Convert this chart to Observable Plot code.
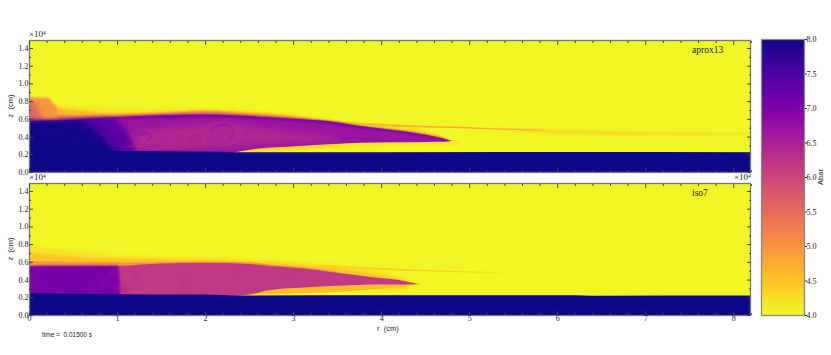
<!DOCTYPE html>
<html><head><meta charset="utf-8">
<script src="https://cdn.jsdelivr.net/npm/d3@7"></script>
<script src="https://cdn.jsdelivr.net/npm/@observablehq/plot@0.6"></script>
<style>
html,body{margin:0;background:#fff}
#c{position:relative;width:831px;height:355px;overflow:hidden}
#c svg{position:absolute;background:transparent;overflow:visible}
.t{position:absolute;white-space:pre;line-height:1;color:#222}
.s{font-family:"Liberation Sans",sans-serif}
.f{font-family:"Liberation Serif",serif}
sup{font-size:60%;vertical-align:baseline;position:relative;top:-.45em}
</style></head><body><div id="c"></div>
<script>
// ticks
const xMajor=[0,1,2,3,4,5,6,7,8];
const xMinor=[.2,.4,.6,.8,1.2,1.4,1.6,1.8,2.2,2.4,2.6,2.8,3.2,3.4,3.6,3.8,4.2,4.4,4.6,4.8,5.2,5.4,5.6,5.8,6.2,6.4,6.6,6.8,7.2,7.4,7.6,7.8,8.2];
const zMajor=[0,.2,.4,.6,.8,1,1.2,1.4];
const zMinor=[.1,.3,.5,.7,.9,1.1,1.3];
const zLabels=["0.0","0.2","0.4","0.6","0.8","1.0","1.2","1.4"];
const barTicks=[4,4.5,5,5.5,6,6.5,7,7.5,8];

// aprox13: r, upper z, lower z, Abar of each region
const aGlowR=[-.1,.3,.35,.6,1,1.5,2,2.5,3,3.3,3.6];
const aGlow1=[.78,.78,.76,.74,.71,.71,.715,.69,.65,.6,.55];
const aGlow2=[.73,.73,.72,.69,.655,.665,.69,.67,.635,.59,.54];
const aGlow3=[.64,.64,.64,.63,.645,.665,.685,.655,.615,.575,.52];
const aCapR=[-.1,.2,.25,.28,.32];
const aCapTop=[.84,.84,.81,.77,.72];
const aCapInR=[-.1,.04,.1,.16];
const aCapInTop=[.82,.8,.72,.6];
const aTailR=[3.1,3.5,4,4.4,4.9,5.3,5.65,5.9];
const aTailTop=[.6,.57,.545,.525,.51,.495,.485,.475];
const aTailBot=[.56,.54,.515,.505,.495,.48,.47,.47];
const aFadeR=[5.3,5.8,6.2,6.8,7.4,7.9,8.3];
const aFadeTop=[.5,.48,.47,.455,.445,.44,.435];
const aFadeBot=[.49,.44,.43,.415,.415,.42,.42];
const aWedgeR=[3.2,3.6,4,4.4,4.7];
const aWedgeTop=[.6,.56,.52,.49,.4];
const aDiskR=[-.1,.5,1,1.5,2,2.3,2.625,3,3.38,3.76,4.14,4.52,4.7,4.8];
const aDiskTop=[.57,.59,.62,.64,.65,.64,.625,.6,.576,.52,.475,.418,.38,.35];
const aDiskBot=[.2,.2,.2,.2,.2,.22,.268,.29,.313,.33,.335,.34,.342,.35];
const aEdgeBot=[.55,.57,.595,.61,.625,.615,.6,.575,.55,.495,.455,.4,.37,.35];
const aUnderR=[2.2,2.6,3,3.4,3.8,4.2,4.6,4.9];
const aUnderTop=[.24,.3,.33,.35,.365,.37,.365,.35];
const aUnderBot=[.225,.26,.29,.32,.335,.345,.35,.35];
const aUnderFillTop=[.23,.27,.3,.33,.34,.35,.35,.35];
const aPatchR=[1.2,1.5,1.9,2.3,2.7,3.1,3.5];
const aPatchTop=[.42,.5,.53,.55,.49,.44,.4];
const aPatchBot=[.27,.27,.27,.28,.31,.33,.35];
const aDark1R=[-.1,.4,.8,.95,1.08,1.2];
const aDark1Top=[.57,.59,.61,.6,.48,.25];
const aDark2R=[-.1,.4,.62,.75,.88,.98];
const aDark2Top=[.565,.57,.57,.47,.34,.22];
const aBaseR=[-.1,.6,.95,1.5,2,2.3,2.4,6,8.3];
const aBaseTop=[.25,.25,.24,.235,.23,.225,.222,.225,.222];
const aSwirls=[
 {a:6.2,r:[1.15,1.22,1.32,1.42,1.46,1.38,1.28,1.3],z:[.4,.48,.49,.44,.37,.33,.37,.42]},
 {a:6.95,r:[1.25,1.33,1.38,1.34],z:[.42,.45,.4,.36]},
 {a:6.2,r:[1.5,1.6,1.72,1.78,1.7,1.62],z:[.3,.42,.46,.38,.32,.36]},
 {a:6.2,r:[1.75,1.85,1.96,1.98,1.88,1.86],z:[.38,.46,.43,.34,.31,.37]},
 {a:6.2,r:[1.98,2.03,2.15,2.3,2.4,2.35,2.2],z:[.42,.53,.57,.55,.46,.36,.3]},
 {a:6.9,r:[2.06,2.15,2.27,2.32,2.25],z:[.46,.53,.52,.43,.36]},
 {a:6.35,r:[2.5,2.65,2.85,3.05,3.2],z:[.33,.4,.42,.4,.36]},
 {a:6.2,r:[1.08,1.2,1.35,1.55,1.68,1.9],z:[.28,.3,.27,.28,.27,.28]}
];
const aMottleR=[.15,.3,.45,.55,.7,.78,.85,.95,1.02,1.08,1.12,.9,.72,.62,.5,.98,1.05];
const aMottleZ=[.5,.45,.52,.42,.55,.47,.55,.48,.4,.5,.33,.33,.38,.5,.33,.56,.27];
const aMottleA=[7.85,7.95,7.8,7.95,7.45,7.6,7.3,7.15,7.2,7.0,6.95,7.45,7.85,7.75,7.95,7.15,7.3];

// iso7
const iGlowR=[-.1,.1,.5,1,1.5,2,2.5,2.74,3.12,3.5,3.88,4.3];
const iGlow0=[.82,.78,.72,.68,.66,.65,.63,.62,.6,.57,.53,.4];
const iGlow1=[.72,.7,.66,.64,.63,.62,.6,.59,.565,.53,.47,.38];
const iLineR=[-.1,.5,1,1.05,1.5,2,2.5,2.74,3.12,3.5];
const iLineTop=[.61,.6,.595,.59,.595,.605,.595,.57,.54,.49];
const iTailR=[3.3,3.9,4.6,5,5.3];
const iTailTop=[.565,.535,.505,.49,.485];
const iTailBot=[.545,.515,.49,.48,.48];
const iFadeR=[5,5.5,6,6.6];
const iFadeTop=[.495,.48,.47,.46];
const iFadeBot=[.475,.465,.46,.455];
const iDiskR=[-.1,.5,1,1.5,2,2.5,2.74,3.12,3.5,3.88,4.26,4.41];
const iDiskTop=[.55,.555,.555,.58,.59,.575,.553,.526,.477,.43,.385,.35];
const iDiskBot=[.2,.2,.2,.2,.2,.23,.283,.31,.33,.345,.345,.35];
const iUnderR=[2.2,2.6,3,3.5,4,4.3,4.46];
const iUnderTop=[.24,.3,.335,.36,.37,.37,.35];
const iUnderBot=[.22,.23,.24,.26,.3,.33,.35];
const iPurpleR=[-.1,.5,.93,1.0,1.02,1.03,1.04];
const iPurpleTop=[.55,.555,.555,.555,.47,.36,.2];
const iBaseR=[-.1,.5,1,2,2.2,2.3,4,6.2,6.4,8.3];
const iBaseTop=[.248,.24,.235,.23,.225,.22,.222,.224,.218,.22];
const iMottleR=[1.2,1.5,1.75,2.05,2.35,2.6,2.9,3.3,.3,.6,.85,1.08,1.0,.95,.1,.5];
const iMottleZ=[.42,.48,.38,.43,.5,.36,.45,.4,.42,.47,.38,.3,.32,.48,.5,.33];
const iMottleA=[6.35,6.05,6.3,6.05,6.3,6.05,6.25,6.05,7.0,7.2,6.85,6.4,6.7,6.75,6.85,7.2];

const rows=(r,top,bot,a)=>r.map((v,i)=>({r:v,t:top[i],b:Array.isArray(bot)?bot[i]:bot,a}));
const color={type:"linear",scheme:"plasma",reverse:true,domain:[4,8]};
const band=(r,top,bot,a,blur=.7)=>Plot.areaY(rows(r,top,bot,a),{x:"r",y1:"b",y2:"t",fill:"a",clip:true,curve:"monotone-x",imageFilter:`blur(${blur}px)`});
const axes=(showX)=>[
  Plot.frame({stroke:"#777",strokeWidth:1.3}),
  Plot.axisX(xMajor,{anchor:"bottom",tickSize:-4,tickPadding:4,fontSize:8,fontFamily:"Liberation Serif",stroke:"#444",fill:"#222",label:null,tickFormat:showX?(d=>d):()=>""}),
  Plot.axisX(xMinor,{anchor:"bottom",tickSize:-2,stroke:"#444",label:null,tickFormat:()=>""}),
  Plot.axisX(xMajor,{anchor:"top",tickSize:-4,stroke:"#444",label:null,tickFormat:()=>""}),
  Plot.axisX(xMinor,{anchor:"top",tickSize:-2,stroke:"#444",label:null,tickFormat:()=>""}),
  Plot.axisY(zMajor,{anchor:"left",tickSize:-4,tickPadding:5,fontSize:8,fontFamily:"Liberation Serif",stroke:"#444",fill:"#222",label:null,tickFormat:d=>zLabels[zMajor.indexOf(d)]}),
  Plot.axisY(zMinor,{anchor:"left",tickSize:-2,stroke:"#444",label:null,tickFormat:()=>""}),
  Plot.axisY(zMajor,{anchor:"right",tickSize:-4,stroke:"#444",label:null,tickFormat:()=>""}),
  Plot.axisY(zMinor,{anchor:"right",tickSize:-2,stroke:"#444",label:null,tickFormat:()=>""})
];
const panel=(top,mt,mb,showX,marks)=>{
  const p=Plot.plot({width:770,height:mt+132+mb,marginLeft:29,marginRight:20,marginTop:mt,marginBottom:mb,
    x:{domain:[0,8.19],axis:null},y:{domain:[0,1.49],axis:null},color,style:{background:"transparent"},
    marks:[Plot.rect([0],{x1:-1,x2:9,y1:0,y2:2,fill:()=>4.02,clip:true}),...marks,...axes(showX)]});
  p.style.left="0px";p.style.top=top+"px";return p;
};
const c=document.getElementById("c");
const swirlMarks=aSwirls.map(s=>Plot.line(s.r.map((v,i)=>({r:v,z:s.z[i],a:s.a})),{x:"r",y:"z",stroke:"a",strokeWidth:1.2,strokeOpacity:.4,curve:"catmull-rom",clip:true,imageFilter:"blur(.7px)"}));
const mottle=(r,z,a,size)=>Plot.dot(r.map((v,i)=>({r:v,z:z[i],a:a[i]})),{x:"r",y:"z",fill:"a",r:size,fillOpacity:.55,clip:true,imageFilter:"blur(2.5px)"});

c.append(panel(28,12,8,false,[
  band(aGlowR,aGlow1,.3,4.2,1.6),
  band(aGlowR,aGlow2,.3,4.65,1.3),
  band(aGlowR,aGlow3,.3,5.4,1),
  band(aCapR,aCapTop,.5,5.0,.8),
  band(aCapInR,aCapInTop,.5,5.6,2.5),
  band(aFadeR,aFadeTop,aFadeBot,4.3,.9),
  band(aTailR,aTailTop,aTailBot,4.75,.6),
  band(aWedgeR,aWedgeTop,.38,4.3,.8),
  band(aUnderR,aUnderFillTop,aUnderBot.map(v=>v-.05),4.15,.5),
  band(aUnderR,aUnderTop,aUnderBot,4.8,.5),
  band(aDiskR,aDiskTop,aDiskBot,6.7,.6),
  band(aDiskR,aDiskTop,aEdgeBot,7.05,.8),
  band(aPatchR,aPatchTop,aPatchBot,6.45,3),
  band(aDark1R,aDark1Top,.2,7.45,2),
  band(aDark2R,aDark2Top,.2,7.97,2),
  ...swirlMarks,
  mottle(aMottleR,aMottleZ,aMottleA,4),
  band(aBaseR,aBaseTop,-.1,8,.6)
]));
c.append(panel(170,13,28,true,[
  band(iGlowR,iGlow0,.3,4.2,1.8),
  band(iGlowR,iGlow1,.3,4.5,1.2),
  band(iLineR,iLineTop,.3,5.0,.6),
  band(iFadeR,iFadeTop,iFadeBot,4.12,.8),
  band(iTailR,iTailTop,iTailBot,4.4,.7),
  band(iUnderR,iUnderTop,iUnderBot,4.55,.6),
  band(iDiskR,iDiskTop,iDiskBot,6.2,.6),
  band(iPurpleR,iPurpleTop,.2,7.05,.9),
  mottle(iMottleR,iMottleZ,iMottleA,4.5),
  band(iBaseR,iBaseTop,-.1,8,.6)
]));
const bar=Plot.plot({width:81,height:295,marginLeft:11,marginRight:27,marginTop:9,marginBottom:10,
  x:{domain:[0,1],axis:null},y:{domain:[4,8],axis:null},color,style:{background:"transparent"},
  marks:[
    Plot.raster({x1:0,x2:1,y1:4,y2:8,fill:(x,y)=>y,pixelSize:1}),
    Plot.frame({stroke:"#888",strokeWidth:1.3}),
    Plot.axisY(barTicks,{anchor:"right",tickSize:2,tickPadding:0,fontSize:8,fontFamily:"Liberation Serif",stroke:"#333",fill:"#222",label:null,tickFormat:d=>d.toFixed(1)})
  ]});
bar.style.left="750px";bar.style.top="30px";c.append(bar);

const label=(cls,html,css)=>{const d=document.createElement("div");d.className="t "+cls;d.innerHTML=html;d.style.cssText+=css;c.append(d);};
label("f","aprox13","left:692px;top:46px;font-size:9.5px");
label("f","iso7","left:692px;top:189px;font-size:9.5px");
label("f","×10<sup>4</sup>","left:29px;top:30px;font-size:9px");
label("f","×10<sup>4</sup>","left:29px;top:173px;font-size:9px");
label("f","×10<sup>4</sup>","left:734px;top:173px;font-size:9px");
label("s","z  (cm)","left:11px;top:106px;font-size:7.5px;transform:translate(-50%,-50%) rotate(-90deg)");
label("s","z  (cm)","left:11px;top:249px;font-size:7.5px;transform:translate(-50%,-50%) rotate(-90deg)");
label("s","r  (cm)","left:377px;top:325px;font-size:7.5px");
label("s","time =  0.01500 s","left:42px;top:332px;font-size:6.5px");
label("s","Abar","left:821px;top:177px;font-size:7.5px;transform:translate(-50%,-50%) rotate(-90deg)");
</script></body></html>
